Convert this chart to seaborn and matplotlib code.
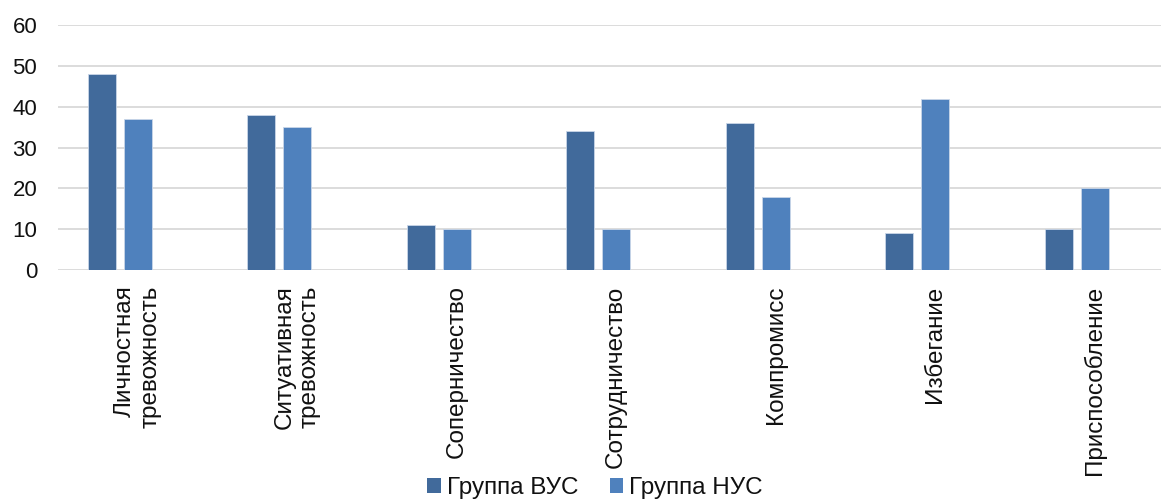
import matplotlib
matplotlib.use("Agg")
import matplotlib.pyplot as plt
from matplotlib.patches import Patch
import seaborn as sns
import pandas as pd

categories = ["Личностная\nтревожность", "Ситуативная\nтревожность", "Соперничество",
              "Сотрудничество", "Компромисс", "Избегание", "Приспособление"]
vus = [48, 38, 11, 34, 36, 9, 10]
nus = [37, 35, 10, 10, 18, 42, 20]
series = ["Группа ВУС", "Группа НУС"]
colors = ["#416A9B", "#4F81BD"]

rows = []
for c, a, b in zip(categories, vus, nus):
    rows.append({"cat": c, "group": series[0], "val": a})
    rows.append({"cat": c, "group": series[1], "val": b})
df = pd.DataFrame(rows)

sns.set_style("white")
plt.rcParams['font.family'] = ['Liberation Sans', 'DejaVu Sans']

fig = plt.figure(figsize=(11.61, 5.0), dpi=100)
ax = fig.add_axes([58/1161, 230/500, 1116.5/1161, 244.5/500])

hue_order = series + ["_empty"]
palette = {series[0]: colors[0], series[1]: colors[1], "_empty": "#ffffff"}
sns.barplot(data=df, x="cat", y="val", hue="group", hue_order=hue_order,
            order=categories, palette=palette, width=0.677, gap=0.22, saturation=1,
            edgecolor="#c9d6e8", linewidth=0.6, ax=ax, legend=False, errorbar=None)

ax.set_xlim(-0.5, 6.5)
ax.set_ylim(0, 60)
ax.set_yticks(range(0, 61, 10))
ax.yaxis.grid(True, color="#d9d9d9", linewidth=1.3)
ax.set_axisbelow(True)
for s in ax.spines.values():
    s.set_visible(False)
ax.set_xlabel("")
ax.set_ylabel("")
ax.tick_params(axis="y", length=0, pad=15, labelsize=16, labelcolor="#111111")
ax.tick_params(axis="x", length=0, pad=11)
ax.set_xticks(range(len(categories)))
ax.set_xticklabels(categories, rotation=90, fontsize=17.5, va="top", ha="center",
                   multialignment="right", color="#111111", linespacing=1.18)

handles = [Patch(facecolor=colors[0], edgecolor="none"),
           Patch(facecolor=colors[1], edgecolor="none")]
fig.legend(handles, series, loc="center", bbox_to_anchor=(595/1161, 12/500),
           ncol=2, frameon=False, fontsize=17.5, handlelength=0.55, handleheight=0.55,
           handletextpad=0.25, columnspacing=1.3, labelcolor="#111111")

fig.savefig("out.png", dpi=100)
